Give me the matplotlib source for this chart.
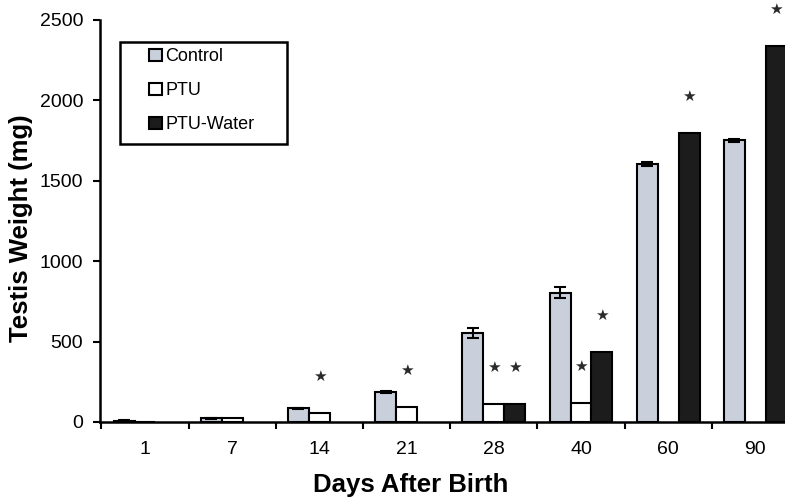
import numpy as np
import matplotlib.pyplot as plt
from matplotlib.patches import Rectangle

plt.rcParams['font.family'] = ['Liberation Sans', 'DejaVu Sans']

days = ['1', '7', '14', '21', '28', '40', '60', '90']
control = [8, 22, 85, 187, 553, 805, 1605, 1752]
control_err = [2, 3, 5, 8, 30, 35, 15, 10]
ptu = [0, 22, 56, 93, 112, 118, np.nan, np.nan]
ptu_water = [np.nan, np.nan, np.nan, np.nan, 112, 435, 1800, 2340]

# which bars got a significance star
stars_ptu = [2, 3, 4, 5]
stars_water = [4, 5, 6, 7]

x = np.arange(len(days))
w = 0.24

fig = plt.figure(figsize=(7.85, 5), dpi=100)
ax = fig.add_axes([0.1274, 0.156, 0.8726, 0.804])

ax.bar(x - w, control, w, yerr=control_err, color='#c9d0dc', edgecolor='black',
       linewidth=1.5, capsize=4, error_kw=dict(lw=1.5, capthick=1.5), label='Control')
ax.bar(x, ptu, w, color='white', edgecolor='black', linewidth=1.5, label='PTU')
ax.bar(x + w, ptu_water, w, color='#1c1c1c', edgecolor='black', linewidth=1.5,
       label='PTU-Water')

for i in stars_ptu:
    ax.annotate('★', (x[i], ptu[i]), xytext=(0, 26), textcoords='offset points',
                ha='center', va='center', fontsize=11, color='#2a2a2a',
                annotation_clip=False)
for i in stars_water:
    ax.annotate('★', (x[i] + w, ptu_water[i]), xytext=(0, 26), textcoords='offset points',
                ha='center', va='center', fontsize=11, color='#2a2a2a',
                annotation_clip=False)

ax.set_xlim(-0.516, 7.34)
ax.set_ylim(0, 2500)
ax.set_yticks([0, 500, 1000, 1500, 2000, 2500])
ax.set_xticks(x)
ax.set_xticklabels(days)
ax.set_xticks(np.arange(len(days)) - 0.5, minor=True)
ax.tick_params(axis='x', which='major', length=0, pad=14, labelsize=14)
ax.tick_params(axis='x', which='minor', length=5, width=1.5, direction='out')
ax.tick_params(axis='y', length=5, width=1.5, labelsize=14, pad=7)

for s in ['top', 'right']:
    ax.spines[s].set_visible(False)
for s in ['left', 'bottom']:
    ax.spines[s].set_linewidth(1.8)

ax.set_xlabel('Days After Birth', fontsize=18.5, fontweight='bold')
ax.set_ylabel('Testis Weight (mg)', fontsize=18.5, fontweight='bold')
ax.xaxis.set_label_coords(0.453, -0.127)
ax.yaxis.set_label_coords(-0.098, 0.483)

leg = ax.legend(loc='upper left', bbox_to_anchor=(0.072, 0.93), borderaxespad=0,
                frameon=False, fontsize=13, handlelength=0.7, handleheight=0.7,
                handletextpad=0.2, labelspacing=0.95, borderpad=0)
ax.add_patch(Rectangle((0.029, 0.692), 0.244, 0.253, transform=ax.transAxes,
                       fill=False, edgecolor='black', linewidth=1.8, clip_on=False))

fig.savefig('out.png', dpi=100)
